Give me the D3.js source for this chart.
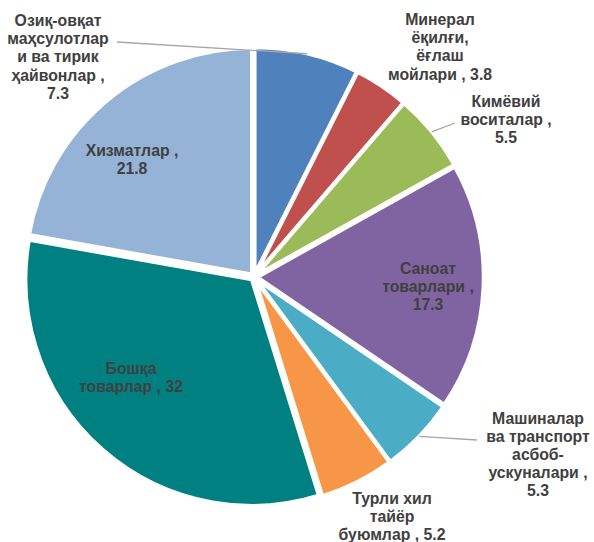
<!DOCTYPE html>
<html>
<head>
<meta charset="utf-8">
<script src="https://cdn.jsdelivr.net/npm/d3@7"></script>
<style>
  html, body { margin: 0; padding: 0; background: #ffffff; }
  svg { display: block; }
  text { font-family: "Liberation Sans", Arial, sans-serif; font-weight: bold; fill: #404040; }
</style>
</head>
<body>
<script>
// ---- data ----
const categories = [
  "Озиқ-овқат маҳсулотлар и ва тирик ҳайвонлар",
  "Минерал ёқилғи, ёғлаш мойлари",
  "Кимёвий воситалар",
  "Саноат товарлари",
  "Машиналар ва транспорт асбоб-ускуналари",
  "Турли хил тайёр буюмлар",
  "Бошқа товарлар",
  "Хизматлар"
];
const values = [7.3, 3.8, 5.5, 17.3, 5.3, 5.2, 32, 21.8];
const colors = ["#4F81BD", "#C0504D", "#9BBB59", "#8064A2", "#4BACC6", "#F79646", "#008080", "#95B3D7"];
// how each label is broken into lines (name part), and whether the value sits on its own line
const nameLines = [
  ["Озиқ-овқат", "маҳсулотлар", "и ва тирик", "ҳайвонлар"],
  ["Минерал", "ёқилғи,", "ёғлаш", "мойлари"],
  ["Кимёвий", "воситалар"],
  ["Саноат", "товарлари"],
  ["Машиналар", "ва транспорт", "асбоб-", "ускуналари"],
  ["Турли хил", "тайёр", "буюмлар"],
  ["Бошқа", "товарлар"],
  ["Хизматлар"]
];
const valueOwnLine = [true, false, true, true, true, false, false, true];

// ---- layout ----
const W = 594, H = 542;
const cx = 254, cy = 277, R = 226, explode = 3.5;
const fontSize = 15.8, lineH = 18.2;
// label anchor: center x, first baseline y
const labelPos = [
  [58, 26], [440, 25], [506, 107], [428, 274],
  [538, 423.5], [392, 503.5], [131, 374], [132, 155.5]
];
// leader lines: extra points after the slice edge point (null = none)
const leaders = [
  [[117, 42]], null, [[455, 123]], null,
  [[477, 440]], null, null, null
];

const svg = d3.select("body").append("svg").attr("width", W).attr("height", H);

const pie = d3.pie().value(d => d).sort(null);
const arcs = pie(values);
const arc = d3.arc().innerRadius(0).outerRadius(R);

const g = svg.append("g").attr("transform", `translate(${cx},${cy})`);

function offset(a) {
  const m = (a.startAngle + a.endAngle) / 2;
  return [explode * Math.sin(m), -explode * Math.cos(m)];
}

g.selectAll("path.slice").data(arcs).enter().append("path")
  .attr("class", "slice")
  .attr("d", arc)
  .attr("transform", d => { const o = offset(d); return `translate(${o[0]},${o[1]})`; })
  .attr("fill", (d, i) => colors[i])
  .attr("stroke", "#ffffff")
  .attr("stroke-width", 3.5)
  .attr("stroke-linejoin", "round");

// leader lines
arcs.forEach((a, i) => {
  if (!leaders[i]) return;
  const m = (a.startAngle + a.endAngle) / 2;
  const o = offset(a);
  const p0 = [cx + o[0] + R * Math.sin(m), cy + o[1] - R * Math.cos(m)];
  const pts = [p0].concat(leaders[i]);
  svg.append("path")
    .attr("d", d3.line()(pts))
    .attr("fill", "none")
    .attr("stroke", "#A6A6A6")
    .attr("stroke-width", 1.3);
});

// labels
arcs.forEach((a, i) => {
  const lines = nameLines[i].slice();
  const v = String(values[i]);
  if (valueOwnLine[i]) {
    lines[lines.length - 1] += " ,";
    lines.push(v);
  } else {
    lines[lines.length - 1] += " , " + v;
  }
  const t = svg.append("text")
    .attr("text-anchor", "middle")
    .attr("font-size", fontSize)
    .attr("x", labelPos[i][0])
    .attr("y", labelPos[i][1]);
  lines.forEach((ln, k) => {
    t.append("tspan")
      .attr("x", labelPos[i][0])
      .attr("y", labelPos[i][1] + k * lineH)
      .text(ln);
  });
});
</script>
</body>
</html>
